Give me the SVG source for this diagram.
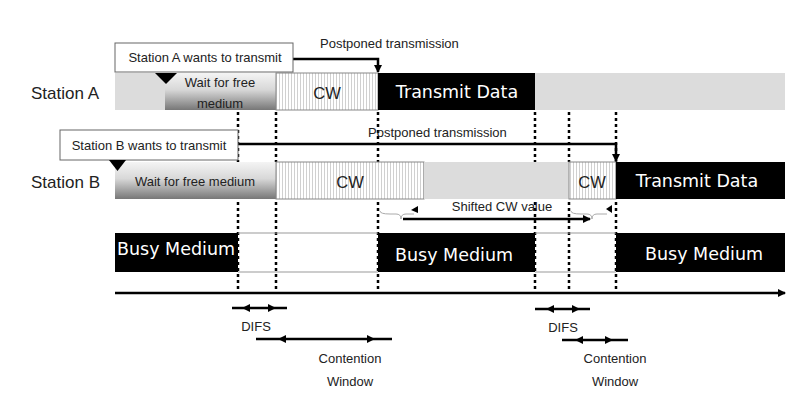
<svg xmlns="http://www.w3.org/2000/svg" width="801" height="401" viewBox="0 0 801 401">
<defs>
  <linearGradient id="wait" x1="0" y1="0" x2="0" y2="1">
    <stop offset="0" stop-color="#f4f4f4"/>
    <stop offset="0.45" stop-color="#d8d8d8"/>
    <stop offset="1" stop-color="#777777"/>
  </linearGradient>
  <pattern id="stripes" width="3" height="10" patternUnits="userSpaceOnUse">
    <rect width="3" height="10" fill="#ffffff"/>
    <line x1="0.5" y1="0" x2="0.5" y2="10" stroke="#d0d0d0" stroke-width="1"/>
  </pattern>
  <marker id="ah" markerWidth="8" markerHeight="8" refX="7" refY="4" orient="auto" markerUnits="userSpaceOnUse">
    <path d="M0,0 L8,4 L0,8 Z" fill="#000"/>
  </marker>
</defs>
<style>
  .lbl{font-family:"Liberation Sans",Arial,sans-serif;fill:#222;}
  .sm{font-size:13px;}
  .st{font-size:17px;}
  .cw{font-size:16.5px;}
  .hand{font-family:"DejaVu Sans",sans-serif;font-size:17.5px;fill:#fff;}
  .box{fill:#fff;stroke:#666;stroke-width:1;}
  .gray{fill:#dcdcdc;}
  .stripe{fill:url(#stripes);stroke:#888;stroke-width:1;}
  .black{fill:#000;}
  .dot{stroke:#000;stroke-width:2.5;stroke-dasharray:3,3;fill:none;}
  .thick{stroke:#000;stroke-width:2.5;fill:none;}
  .brace{stroke:#aaa;stroke-width:1;fill:none;}
</style>

<g id="connectors">
  <line class="dot" x1="238" y1="112" x2="238" y2="290"/>
  <line class="dot" x1="276" y1="112" x2="276" y2="290"/>
  <line class="dot" x1="378" y1="112" x2="378" y2="290"/>
  <line class="dot" x1="535" y1="112" x2="535" y2="290"/>
  <line class="dot" x1="569" y1="112" x2="569" y2="290"/>
  <line class="dot" x1="616" y1="112" x2="616" y2="290"/>
  <path class="thick" d="M293,59 L378,59 L378,72" marker-end="url(#ah)"/>
  <path class="thick" d="M238,144 L616,144 L616,161" marker-end="url(#ah)"/>
  <path class="brace" d="M380,211 Q380,214 390,214 L396,214 Q401,214 401,219 Q401,214 406,214 L414,214"/>
  <path d="M418,206 L418,213 L411,210 Z" fill="#000"/>
  <path class="brace" d="M571,211 Q571,214 581,214 L587,214 Q592,214 592,219 Q592,214 597,214 L607,214"/>
  <path d="M612,205 L612,213 L606,209 Z" fill="#000"/>
  <line class="thick" x1="403" y1="219" x2="590" y2="219" marker-end="url(#ah)"/>
  <line x1="115" y1="293" x2="785" y2="293" stroke="#000" stroke-width="2.5" marker-end="url(#ah)"/>
  <line x1="232" y1="308" x2="287" y2="308" stroke="#000" stroke-width="2.5"/>
  <path d="M242,308 L250,304 L250,312 Z" fill="#000"/>
  <path d="M276,308 L268,304 L268,312 Z" fill="#000"/>
  <line x1="256" y1="339" x2="392" y2="339" stroke="#000" stroke-width="2.5"/>
  <path d="M278,339 L286,335 L286,343 Z" fill="#000"/>
  <path d="M375,339 L367,335 L367,343 Z" fill="#000"/>
  <line x1="535" y1="309" x2="590" y2="309" stroke="#000" stroke-width="2.5"/>
  <path d="M546,309 L554,305 L554,313 Z" fill="#000"/>
  <path d="M580,309 L572,305 L572,313 Z" fill="#000"/>
  <line x1="562" y1="340" x2="628" y2="340" stroke="#000" stroke-width="2.5"/>
  <path d="M575,340 L583,336 L583,344 Z" fill="#000"/>
  <path d="M613,340 L605,336 L605,344 Z" fill="#000"/>
</g>

<g id="stationA">
  <text class="lbl st" x="31" y="99">Station A</text>
  <rect class="gray" x="115" y="73" width="670" height="37"/>
  <rect x="165" y="73" width="111" height="37" fill="url(#wait)"/>
  <text class="lbl sm" x="220" y="87" text-anchor="middle">Wait for free</text>
  <text class="lbl sm" x="220" y="108" text-anchor="middle">medium</text>
  <rect class="stripe" x="276" y="73" width="102" height="37"/>
  <text class="lbl cw" x="327" y="99" text-anchor="middle">CW</text>
  <rect class="black" x="378" y="73" width="157" height="37"/>
  <text class="hand" x="457" y="98" text-anchor="middle">Transmit Data</text>
</g>

<g id="wantA">
  <rect class="box" x="115" y="43" width="178" height="29"/>
  <text class="lbl sm" x="205" y="62" text-anchor="middle">Station A wants to transmit</text>
  <path d="M155,73 L177,73 L166,84 Z" fill="#000"/>
</g>

<g id="stationB">
  <text class="lbl st" x="31" y="188">Station B</text>
  <rect x="115" y="162" width="161" height="37" fill="url(#wait)"/>
  <text class="lbl sm" x="195" y="186" text-anchor="middle">Wait for free medium</text>
  <rect class="stripe" x="276" y="162" width="148" height="37"/>
  <text class="lbl cw" x="350" y="188" text-anchor="middle">CW</text>
  <rect class="gray" x="424" y="162" width="145" height="37"/>
  <rect class="stripe" x="569" y="162" width="47" height="37"/>
  <text class="lbl cw" x="592" y="188" text-anchor="middle">CW</text>
  <rect class="black" x="616" y="162" width="169" height="37"/>
  <text class="hand" x="697" y="187" text-anchor="middle">Transmit Data</text>
</g>

<g id="wantB">
  <rect class="box" x="60" y="130" width="178" height="30"/>
  <text class="lbl sm" x="149" y="150" text-anchor="middle">Station B wants to transmit</text>
  <path d="M109,160 L126,160 L117.5,171 Z" fill="#000"/>
</g>

<g id="medium">
  <rect class="black" x="115" y="233" width="123" height="39"/>
  <text class="hand" x="176" y="255" text-anchor="middle">Busy Medium</text>
  <line x1="238" y1="233" x2="378" y2="233" stroke="#999" stroke-width="1"/>
  <line x1="238" y1="272" x2="378" y2="272" stroke="#999" stroke-width="1"/>
  <rect class="black" x="378" y="233" width="157" height="39"/>
  <text class="hand" x="454" y="261" text-anchor="middle">Busy Medium</text>
  <line x1="535" y1="233" x2="616" y2="233" stroke="#999" stroke-width="1"/>
  <line x1="535" y1="272" x2="616" y2="272" stroke="#999" stroke-width="1"/>
  <rect class="black" x="616" y="233" width="169" height="39"/>
  <text class="hand" x="704" y="260" text-anchor="middle">Busy Medium</text>
</g>

<g id="labels">
  <text class="lbl sm" x="320" y="48">Postponed transmission</text>
  <text class="lbl sm" x="368" y="137">Postponed transmission</text>
  <text class="lbl sm" x="502" y="211" text-anchor="middle">Shifted CW value</text>
  <text class="lbl sm" x="256" y="331" text-anchor="middle">DIFS</text>
  <text class="lbl sm" x="350" y="363" text-anchor="middle">Contention</text>
  <text class="lbl sm" x="350" y="386" text-anchor="middle">Window</text>
  <text class="lbl sm" x="563" y="332" text-anchor="middle">DIFS</text>
  <text class="lbl sm" x="615" y="363" text-anchor="middle">Contention</text>
  <text class="lbl sm" x="615" y="386" text-anchor="middle">Window</text>
</g>
</svg>
